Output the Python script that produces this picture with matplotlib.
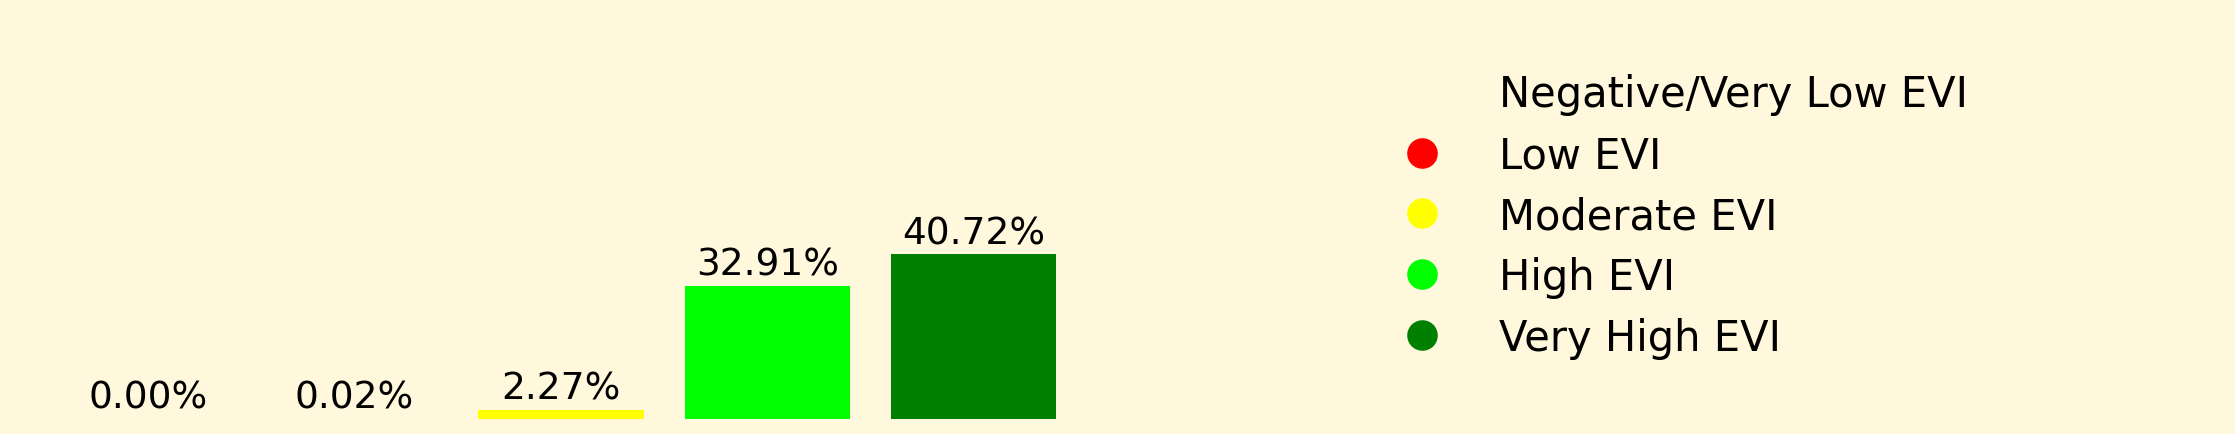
import numpy as np
import matplotlib
matplotlib.use('Agg')
import matplotlib.pyplot as plt
from matplotlib.lines import Line2D

# data
classes = ['Negative/Very Low EVI', 'Low EVI', 'Moderate EVI', 'High EVI', 'Very High EVI']
percents = [0.00, 0.02, 2.27, 32.91, 40.72]
colors = ['#FFF8DC', 'red', 'yellow', 'lime', 'green']

bg = '#FFF8DC'
W, H = 2235, 435
fig = plt.figure(figsize=(W / 200, H / 200), dpi=200, facecolor=bg)

# axes placed in pixels so the bars land where the reference has them
ax = fig.add_axes([16 / W, 15 / H, 1090 / W, 173 / H])
ax.set_facecolor(bg)
x = np.arange(len(classes))
bars = ax.bar(x, percents, color=colors, width=0.8)
for b, p in zip(bars, percents):
    ax.text(b.get_x() + b.get_width() / 2, b.get_height() + 0.8, f'{p:.2f}%',
            ha='center', va='bottom', fontsize=13.5)
ax.axis('off')

handles = [Line2D([0], [0], marker='o', linestyle='', markersize=10,
                  markerfacecolor=c, markeredgecolor=c) for c in colors]
fig.legend(handles, classes, loc='upper left', bbox_to_anchor=(1343 / W, 1 - 37 / H),
           frameon=False, fontsize=15, handletextpad=0.85, labelspacing=0.45)

fig.savefig('out.png', dpi=200, facecolor=bg)
